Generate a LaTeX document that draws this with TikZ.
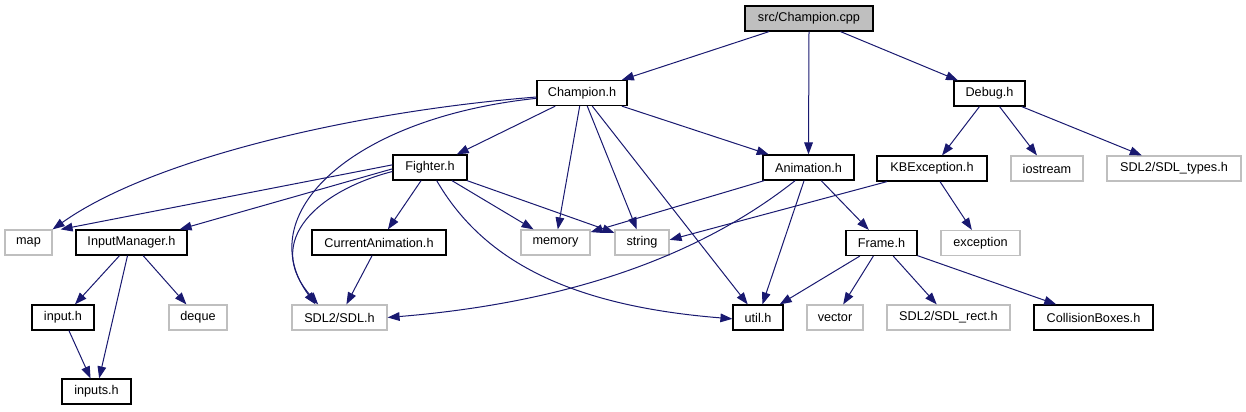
\documentclass[tikz,border=0pt]{standalone}
\usepackage{fontspec}
\setmainfont{Liberation Sans}
\usetikzlibrary{arrows.meta}

\definecolor{edgeblue}{HTML}{191970}
\definecolor{boxgrey}{HTML}{BFBFBF}

\begin{document}
\begin{tikzpicture} [x=0.75pt, y=-0.75pt,
  file/.style={draw=black, line width=0.9pt, minimum height=25*0.75pt, inner sep=0pt,
    font=\fontsize{9.5}{11}\selectfont},
  sys/.style={file, draw=boxgrey},
  root/.style={file, fill=boxgrey},
  inc/.style={draw=edgeblue, line width=0.75pt, -{Triangle[length=9pt, width=6.5pt]}}]
 \useasboundingbox (0,0) rectangle (1246,411);
 % row 0
 \node [root, minimum width=128*0.75pt] (cpp) at (809,18.5) {src/Champion.cpp};
 % row 1
 \node [file, minimum width=90*0.75pt] (champ) at (582,93) {Champion.h};
 \node [file, minimum width=71*0.75pt] (debug) at (989.5,93.5) {Debug.h};
 % row 2
 \node [file, minimum width=74*0.75pt] (fighter) at (430,167.5) {Fighter.h};
 \node [file, minimum width=91*0.75pt] (anim) at (808.5,167.5) {Animation.h};
 \node [file, minimum width=110*0.75pt] (kbex) at (932,168.5) {KBException.h};
 \node [sys, minimum width=72*0.75pt] (iostream) at (1047,168.5) {iostream};
 \node [sys, minimum width=134*0.75pt] (sdltypes) at (1174,168.5) {SDL2/SDL\_types.h};
 % row 3
 \node [sys, minimum width=47*0.75pt] (map) at (28.5,242.5) {map};
 \node [file, minimum width=111*0.75pt] (inmgr) at (131.5,242.5) {InputManager.h};
 \node [file, minimum width=134*0.75pt] (curanim) at (379,242.5) {CurrentAnimation.h};
 \node [sys, minimum width=69*0.75pt] (memory) at (555.5,242.5) {memory};
 \node [sys, minimum width=54*0.75pt] (string) at (642,242.5) {string};
 \node [file, minimum width=71*0.75pt] (frame) at (881.5,243) {Frame.h};
 \node [sys, minimum width=79*0.75pt] (exception) at (980.5,243) {exception};
 % row 4
 \node [file, minimum width=62*0.75pt] (input) at (63,317.5) {input.h};
 \node [sys, minimum width=58*0.75pt] (deque) at (198,317.5) {deque};
 \node [sys, minimum width=95*0.75pt] (sdl) at (339.5,317.5) {SDL2/SDL.h};
 \node [file, minimum width=50*0.75pt] (util) at (758,317.5) {util.h};
 \node [sys, minimum width=56*0.75pt] (vector) at (835,317.5) {vector};
 \node [sys, minimum width=123*0.75pt] (sdlrect) at (948.5,317.5) {SDL2/SDL\_rect.h};
 \node [file, minimum width=119*0.75pt] (colbox) at (1093.5,317.5) {CollisionBoxes.h};
 % row 5
 \node [file, minimum width=69*0.75pt] (inputs) at (96.5,391.5) {inputs.h};

 \draw [inc] (cpp) -- (champ);
 \draw [inc] (cpp.south) -- (anim.north);
 \draw [inc] (cpp) -- (debug);

 \draw [inc] ([yshift=-3pt]champ.west) .. controls (350,112) and (150,160) .. (map.north east);
 \draw [inc] ([yshift=-4pt]champ.west) .. controls (350,118) and (250,215) .. ([xshift=-18pt]sdl.north);
 \draw [inc] (champ) -- (fighter);
 \draw [inc] (champ) -- (memory);
 \draw [inc] (champ) -- (string);
 \draw [inc] (champ) -- (util);
 \draw [inc] (champ) -- (anim);

 \draw [inc] ([yshift=2pt]fighter.west) -- ([xshift=6pt]map.north east);
 \draw [inc] ([yshift=-1pt]fighter.west) -- ([xshift=-6pt]inmgr.north east);
 \draw [inc] ([yshift=-3pt]fighter.west) .. controls (320,190) and (262,240) .. ([xshift=-16pt]sdl.north);
 \draw [inc] (fighter) -- (curanim);
 \draw [inc] (fighter) -- (memory);
 \draw [inc] (fighter) -- (string);
 \draw [inc] ([xshift=5pt]fighter.south) .. controls (480,255) and (560,305) .. ([yshift=-1pt]util.west);

 \draw [inc] (anim) -- (memory);
 \draw [inc] ([xshift=-10pt]anim.south) .. controls (720,240) and (600,300) .. (sdl.east);
 \draw [inc] (anim) -- (util);
 \draw [inc] (anim) -- (frame);

 \draw [inc] (debug) -- (kbex);
 \draw [inc] (debug) -- (iostream);
 \draw [inc] (debug) -- (sdltypes);
 \draw [inc] ([xshift=8pt]kbex.south west) -- ([yshift=2pt]string.east);
 \draw [inc] ([xshift=6pt]kbex.south) -- (exception);

 \draw [inc] (inmgr) -- (input);
 \draw [inc] ([xshift=-3pt]inmgr.south) -- ([xshift=2pt]inputs.north);
 \draw [inc] (inmgr) -- (deque);
 \draw [inc] (input) -- (inputs);
 \draw [inc] (curanim) -- (sdl);

 \draw [inc] (frame) -- (util);
 \draw [inc] (frame) -- (vector);
 \draw [inc] (frame) -- (sdlrect);
 \draw [inc] (frame) -- (colbox);
\end{tikzpicture}
\end{document}
